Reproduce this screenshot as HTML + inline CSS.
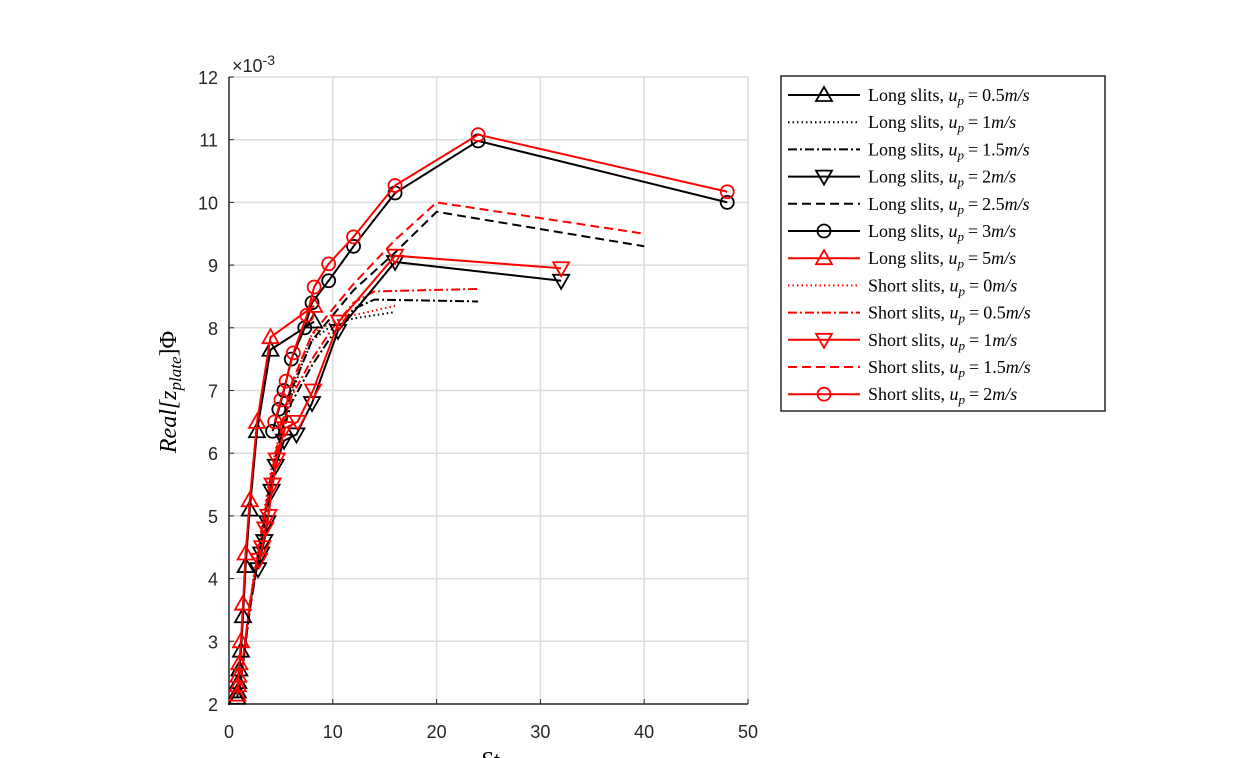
<!DOCTYPE html>
<html><head><meta charset="utf-8"><style>
body{margin:0;background:#fff}
svg{display:block}
text{font-family:"Liberation Sans",sans-serif}
.s{font-family:"Liberation Serif",serif}
</style></head><body>
<svg id="c" width="1240" height="758" xmlns="http://www.w3.org/2000/svg"></svg>
<script>
const svg=document.getElementById('c');
let h='';
const X=x=>229+10.38*x, Y=y=>704-62.7*(y-2);
for(let i=1;i<=5;i++)h+=`<line x1="${X(i*10)}" y1="77" x2="${X(i*10)}" y2="704" stroke="#dcdcdc" stroke-width="1.5"/>`;
for(let v=3;v<=12;v++)h+=`<line x1="229" y1="${Y(v)}" x2="748" y2="${Y(v)}" stroke="#dcdcdc" stroke-width="1.5"/>`;
h+=`<line x1="229" y1="77" x2="229" y2="705" stroke="#262626" stroke-width="1.5"/><line x1="228" y1="704" x2="748" y2="704" stroke="#262626" stroke-width="1.5"/>`;
for(let i=0;i<=5;i++){h+=`<line x1="${X(i*10)}" y1="704" x2="${X(i*10)}" y2="699" stroke="#262626"/><text x="${X(i*10)}" y="738" font-size="18" text-anchor="middle" fill="#262626">${i*10}</text>`;}
for(let v=2;v<=12;v++){h+=`<line x1="229" y1="${Y(v)}" x2="234" y2="${Y(v)}" stroke="#262626"/><text x="218" y="${Y(v)+7}" font-size="18" text-anchor="end" fill="#262626">${v}</text>`;}
h+=`<text x="232" y="72" font-size="18" fill="#262626">×10<tspan dy="-7" font-size="14">-3</tspan></text>`;
h+=`<text class="s" transform="translate(176,392) rotate(-90)" text-anchor="middle" font-size="24" font-style="italic">Real[z<tspan font-size="17" dy="5">plate</tspan><tspan dy="-5" font-style="normal">]Φ</tspan></text>`;
h+=`<text class="s" x="490" y="768" font-size="24" font-style="italic" text-anchor="middle">St</text>`;
const D={solid:'',dot:'1.5,3',dd:'9,3,2,3',dash:'9,5'};
function mk(t,x,y,c){if(t=='tu')return `<polygon points="${x},${y-8} ${x-8},${y+6} ${x+8},${y+6}" fill="none" stroke="${c}" stroke-width="1.8"/>`;
if(t=='td')return `<polygon points="${x},${y+8} ${x-8},${y-6} ${x+8},${y-6}" fill="none" stroke="${c}" stroke-width="1.8"/>`;
if(t=='o')return `<circle cx="${x}" cy="${y}" r="6.5" fill="none" stroke="${c}" stroke-width="1.8"/>`;return '';}
function ser(xs,ys,c,st,m){let p=xs.map((x,i)=>X(x)+','+Y(ys[i])).join(' ');
h+=`<polyline points="${p}" fill="none" stroke="${c}" stroke-width="2" stroke-dasharray="${D[st]}"/>`;
xs.forEach((x,i)=>h+=mk(m,X(x),Y(ys[i]),c));}
const d1x=[1,1.5,2,2.5,3,3.5,4,5,6,7,8,10,12,16];
ser(d1x,[2.2,2.8,3.5,4.1,4.6,5.1,5.6,6.3,6.9,7.4,7.8,8.05,8.15,8.25],'#000','dot','');
ser([1,2,3,4,5,6,8,10,12,14,24],[2.2,3.5,4.5,5.4,6.2,6.8,7.4,7.9,8.3,8.45,8.42],'#000','dd','');
ser([1,2,3,4,5,6,8,10,12,16,20,40],[2.2,3.5,4.5,5.5,6.3,7,7.8,8.2,8.6,9.2,9.85,9.3],'#000','dash','');
ser(d1x,[2.25,2.9,3.6,4.2,4.7,5.2,5.7,6.4,7,7.5,7.9,8.1,8.2,8.35],'#f00','dot','');
ser([1,2,3,4,5,6,8,10,12,14,24],[2.25,3.6,4.6,5.5,6.3,6.9,7.5,8.0,8.4,8.58,8.62],'#f00','dd','');
ser([1,2,3,4,5,6,8,10,12,16,20,40],[2.25,3.6,4.6,5.6,6.4,7.1,7.9,8.3,8.7,9.4,10,9.5],'#f00','dash','');
const tux=[0.8,0.85,0.9,1,1.15,1.35,1.6,2,2.7,4,8.2];
ser(tux,[2.1,2.2,2.35,2.55,2.85,3.4,4.2,5.1,6.35,7.65,8.1],'#000','solid','tu');
ser([2.8,3.1,3.4,3.7,4.1,4.5,5.3,6.5,8,10.5,16,32],[4.15,4.4,4.6,4.9,5.4,5.8,6.2,6.3,6.8,7.95,9.05,8.75],'#000','solid','td');
ser([4.2,4.8,5.3,6,7.3,8,9.6,12,16,24,48],[6.35,6.7,7,7.5,8,8.4,8.75,9.3,10.15,10.98,10],'#000','solid','o');
ser(tux,[2.15,2.3,2.45,2.65,3.0,3.6,4.4,5.25,6.5,7.85,8.35],'#f00','solid','tu');
ser([2.9,3.2,3.5,3.8,4.2,4.6,5.4,6.6,8.1,10.6,16,32],[4.3,4.5,4.8,5.0,5.5,5.9,6.4,6.5,7,8.1,9.15,8.95],'#f00','solid','td');
ser([4.4,5,5.5,6.2,7.5,8.2,9.6,12,16,24,48],[6.5,6.85,7.15,7.6,8.2,8.65,9.02,9.45,10.27,11.08,10.17],'#f00','solid','o');
h+=`<rect x="781" y="76" width="324" height="335" fill="#fff" stroke="#262626" stroke-width="1.5"/>`;
const L=[['Long','0.5','#000','solid','tu'],['Long','1','#000','dot',''],['Long','1.5','#000','dd',''],['Long','2','#000','solid','td'],['Long','2.5','#000','dash',''],['Long','3','#000','solid','o'],['Long','5','#f00','solid','tu'],['Short','0','#f00','dot',''],['Short','0.5','#f00','dd',''],['Short','1','#f00','solid','td'],['Short','1.5','#f00','dash',''],['Short','2','#f00','solid','o']];
L.forEach((e,i)=>{const y=95+i*27.2;h+=`<line x1="788" y1="${y}" x2="860" y2="${y}" stroke="${e[2]}" stroke-width="2" stroke-dasharray="${D[e[3]]}"/>`+mk(e[4],824,y,e[2]);
h+=`<text class="s" x="868" y="${y+6}" font-size="18">${e[0]} slits, <tspan font-style="italic">u</tspan><tspan font-size="13" dy="4" font-style="italic">p</tspan><tspan dy="-4" dx="4">=</tspan><tspan dx="4">${e[1]}</tspan><tspan font-style="italic">m/s</tspan></text>`;});
svg.innerHTML=h;
</script>
</body></html>
